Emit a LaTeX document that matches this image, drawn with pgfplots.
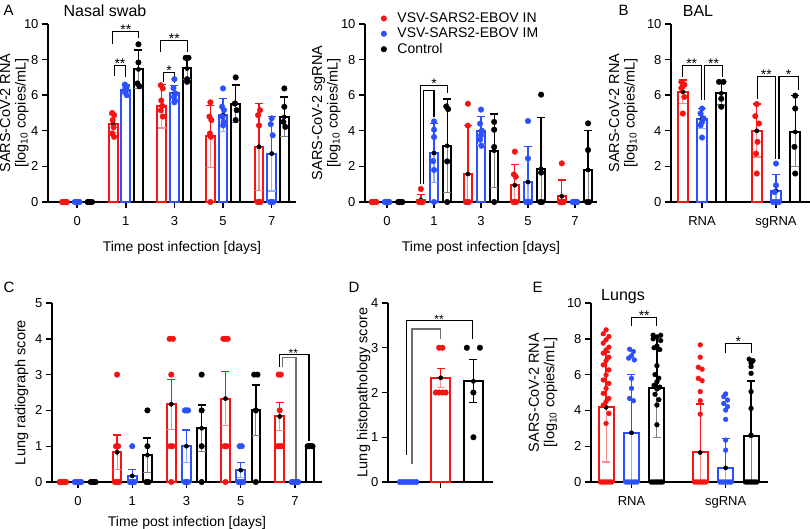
\documentclass[border=0pt]{standalone}
\usepackage{pgfplots}
\pgfplotsset{compat=1.18}
\usepackage{fontspec}
\setmainfont{Liberation Sans}
\definecolor{cR}{RGB}{245,20,20}
\definecolor{cB}{RGB}{45,80,255}
\definecolor{cK}{RGB}{0,0,0}
\definecolor{cRl}{RGB}{250,140,140}
\definecolor{cBl}{RGB}{150,170,255}
\definecolor{cKl}{RGB}{130,130,130}
\definecolor{cG}{RGB}{110,110,110}
\pgfplotsset{
  panel/.style={scale only axis, axis lines=left, axis line style={-, line width=1.4pt},
    ymin=0, clip=false, tick align=outside, major tick length=6pt,
    tick style={black, line width=1.4pt},
    tick label style={font=\fontsize{13}{15}\selectfont},
    xticklabel style={yshift=-5pt},
    xlabel style={font=\fontsize{14}{16}\selectfont},
    ylabel style={font=\fontsize{14.5}{15.5}\selectfont, align=center},
    /pgf/number format/assume math mode=true,
    anchor=south west},
  bars/.style={ybar, bar shift=0pt, fill=white, draw=#1, line width=2pt, forget plot},
  errp/.style={only marks, mark=none, forget plot, error bars/y dir=plus, error bars/y explicit,
     error bars/error bar style={draw=#1, line width=1.3pt},
     error bars/error mark options={rotate=90, draw=#1, line width=1.3pt, mark size=4pt}},
  errm/.style={only marks, mark=none, forget plot, error bars/y dir=minus, error bars/y explicit,
     error bars/error bar style={draw=#1, line width=1.1pt},
     error bars/error mark options={rotate=90, draw=#1, line width=1.1pt, mark size=4pt}},
  dots/.style={only marks, mark=*, mark size=2.8pt, color=#1, forget plot},
}
\tikzset{brk/.style={line width=1.1pt}, star/.style={font=\fontsize{14}{16}\selectfont, anchor=base, inner sep=0pt, yshift=-3pt}}
\begin{document}
\begin{tikzpicture}
\path[use as bounding box] (0pt,0pt) rectangle (810pt,-529pt);
% panel letters and titles
\node[anchor=base west, font=\fontsize{15}{16}\selectfont] at (0pt,-16pt) {A};
\node[anchor=base west, font=\fontsize{15}{16}\selectfont] at (615pt,-16pt) {B};
\node[anchor=base west, font=\fontsize{15}{16}\selectfont] at (0pt,-292pt) {C};
\node[anchor=base west, font=\fontsize{15}{16}\selectfont] at (345pt,-292pt) {D};
\node[anchor=base west, font=\fontsize{15}{16}\selectfont] at (529pt,-292pt) {E};
\node[anchor=base, font=\fontsize{16}{18}\selectfont] at (105pt,-17pt) {Nasal swab};
\node[anchor=base, font=\fontsize{16}{18}\selectfont] at (698pt,-17pt) {BAL};
\node[anchor=base, font=\fontsize{16}{18}\selectfont] at (623pt,-300pt) {Lungs};

% ---------------- Panel A left: nasal swab RNA
\begin{axis}[panel, at={(48pt,-202pt)}, width=248pt, height=178pt,
  xmin=-0.6, xmax=4.5, ymax=10, ytick={0,2,4,6,8,10}, xtick={0,1,2,3,4}, xticklabels={0,1,3,5,7},
  bar width=0.18, xlabel={Time post infection [days]},
  xlabel style={at={(axis description cs:0.54,-0.2)}, anchor=north},
  ylabel={SARS-CoV-2 RNA\\{[}log\textsubscript{10} copies/mL{]}},
  ylabel style={at={(axis description cs:-0.064,0.5)}, anchor=south}]
\addplot[bars=cR] coordinates {(-0.26,0) (0.74,4.41) (1.74,5.38) (2.74,3.7) (3.74,3.1)};
\addplot[bars=cB] coordinates {(0,0) (1,6.32) (2,6.1) (3,4.88) (4,2.72)};
\addplot[bars=cK] coordinates {(0.26,0) (1.26,7.45) (2.26,7.5) (3.26,5.53) (4.26,4.78)};
\addplot[errm=cRl] coordinates {(0.74,4.41) +- (0,0.5) (1.74,5.38) +- (0,1.22) (2.74,3.7) +- (0,1.74) (3.74,3.1) +- (0,2.43)};
\addplot[errp=cR] coordinates {(0.74,4.41) +- (0,0.5) (1.74,5.38) +- (0,1.22) (2.74,3.7) +- (0,1.74) (3.74,3.1) +- (0,2.43)};
\addplot[errm=cBl] coordinates {(1,6.32) +- (0,0.25) (2,6.1) +- (0,0.46) (3,4.88) +- (0,0.92) (4,2.72) +- (0,2.1)};
\addplot[errp=cB] coordinates {(1,6.32) +- (0,0.25) (2,6.1) +- (0,0.46) (3,4.88) +- (0,0.92) (4,2.72) +- (0,2.1)};
\addplot[errm=cKl] coordinates {(1.26,7.45) +- (0,1.09) (2.26,7.5) +- (0,0.6) (3.26,5.53) +- (0,1.04) (4.26,4.78) +- (0,1.12)};
\addplot[errp=cK] coordinates {(1.26,7.45) +- (0,1.09) (2.26,7.5) +- (0,0.6) (3.26,5.53) +- (0,1.04) (4.26,4.78) +- (0,1.12)};
\addplot[dots=cR] coordinates {(-0.31,0) (-0.29,0) (-0.27,0) (-0.25,0) (-0.23,0) (-0.21,0)
  (0.72,5.0) (0.76,4.88) (0.73,4.6) (0.75,4.2) (0.72,3.85) (0.76,3.66)
  (1.72,6.56) (1.76,6.38) (1.73,5.7) (1.75,5.4) (1.72,5.15) (1.76,4.8)
  (2.74,5.6) (2.72,4.8) (2.76,4.6) (2.73,3.85) (2.75,3.66) (2.74,0)
  (3.76,5.16) (3.72,4.88) (3.74,4.3) (3.71,0) (3.74,0) (3.77,0)};
\addplot[dots=cB] coordinates {(-0.05,0) (-0.03,0) (-0.01,0) (0.01,0) (0.03,0) (0.05,0)
  (0.98,6.6) (1.02,6.5) (0.99,6.4) (1.01,6.3) (0.98,6.2) (1.02,6.0)
  (2.0,6.9) (1.98,6.4) (2.02,6.1) (1.99,5.9) (2.01,5.7) (2.0,5.6)
  (3.0,6.38) (2.98,5.35) (3.02,5.16) (2.99,4.78) (3.01,4.5) (3.0,4.3)
  (4.0,4.7) (3.98,4.37) (4.02,3.75) (3.97,0) (4.0,0) (4.03,0)};
\addplot[dots=cK] coordinates {(0.215,0) (0.245,0) (0.275,0) (0.305,0)
  (1.26,8.86) (1.26,7.84) (1.24,6.66) (1.28,6.5)
  (2.23,8.1) (2.29,8.1) (2.26,6.9) (2.26,6.75)
  (3.26,7.0) (3.24,5.53) (3.28,5.16) (3.26,4.6)
  (4.26,6.38) (4.26,5.35) (4.24,4.5) (4.28,4.22)};
\draw[brk] (axis cs:0.72,8.9) |- (axis cs:1.26,9.57) -- (axis cs:1.26,9.2);
\node[star] at (axis cs:1.0,9.57) {**};
\draw[brk] (axis cs:0.76,7.1) |- (axis cs:1.0,7.65) -- (axis cs:1.0,7.0);
\node[star] at (axis cs:0.88,7.65) {**};
\draw[brk] (axis cs:1.72,8.45) |- (axis cs:2.27,9.06) -- (axis cs:2.27,8.45);
\node[star] at (axis cs:2.0,9.06) {**};
\draw[brk] (axis cs:1.78,6.75) |- (axis cs:2.0,7.26) -- (axis cs:2.0,6.66);
\node[star] at (axis cs:1.89,7.26) {*};
\end{axis}

% ---------------- Panel A right: nasal swab sgRNA
\begin{axis}[panel, at={(365pt,-202pt)}, width=232pt, height=178pt,
  xmin=-0.47, xmax=4.47, ymax=10, ytick={0,2,4,6,8,10}, xtick={0,1,2,3,4}, xticklabels={0,1,3,5,7},
  bar width=0.17, xlabel={Time post infection [days]},
  xlabel style={at={(axis description cs:0.5,-0.2)}, anchor=north},
  ylabel={SARS-CoV-2 sgRNA\\{[}log\textsubscript{10} copies/mL{]}},
  ylabel style={at={(axis description cs:-0.09,0.5)}, anchor=south},
  legend style={at={(0.055,1.075)}, anchor=north west, draw=none, fill=none,
    font=\fontsize{14}{16}\selectfont, row sep=0pt, inner sep=0pt, cells={anchor=west}},
  legend image code/.code={\draw[#1] plot coordinates {(0.2cm,0cm)}; \path (0cm,0cm) (0.6cm,0cm);}]
\addlegendimage{only marks, mark=*, mark size=2.8pt, color=cR}
\addlegendentry{VSV-SARS2-EBOV IN}
\addlegendimage{only marks, mark=*, mark size=2.8pt, color=cB}
\addlegendentry{VSV-SARS2-EBOV IM}
\addlegendimage{only marks, mark=*, mark size=2.8pt, color=cK}
\addlegendentry{Control}
\addplot[bars=cR] coordinates {(-0.28,0) (0.72,0.12) (1.72,1.57) (2.72,0.94) (3.72,0.32)};
\addplot[bars=cB] coordinates {(0,0) (1,2.75) (2,4.0) (3,1.12) (4,0)};
\addplot[bars=cK] coordinates {(0.28,0) (1.28,3.16) (2.28,2.88) (3.28,1.87) (4.28,1.8)};
\addplot[errm=cRl] coordinates {(1.72,1.57) +- (0,1.57) (2.72,0.94) +- (0,0.94) (3.72,0.32) +- (0,0.32)};
\addplot[errp=cR] coordinates {(0.72,0.12) +- (0,0.29) (1.72,1.57) +- (0,2.72) (2.72,0.94) +- (0,1.18) (3.72,0.32) +- (0,0.92)};
\addplot[errm=cBl] coordinates {(1,2.75) +- (0,1.65) (2,4.0) +- (0,0.8) (3,1.12) +- (0,1.12)};
\addplot[errp=cB] coordinates {(1,2.75) +- (0,1.65) (2,4.0) +- (0,0.8) (3,1.12) +- (0,1.98)};
\addplot[errm=cKl] coordinates {(1.28,3.16) +- (0,2.63) (2.28,2.88) +- (0,2.06) (3.28,1.87) +- (0,1.87) (4.28,1.8) +- (0,1.8)};
\addplot[errp=cK] coordinates {(1.28,3.16) +- (0,2.63) (2.28,2.88) +- (0,2.06) (3.28,1.87) +- (0,2.89) (4.28,1.8) +- (0,2.2)};
\addplot[dots=cR] coordinates {(-0.33,0) (-0.31,0) (-0.29,0) (-0.27,0) (-0.25,0) (-0.23,0)
  (0.72,0.73) (0.68,0) (0.70,0) (0.72,0) (0.74,0) (0.76,0)
  (1.72,5.52) (1.72,4.29) (1.68,0) (1.70,0) (1.72,0) (1.74,0)
  (2.72,2.83) (2.70,1.55) (2.74,1.42) (2.69,0) (2.72,0) (2.75,0)
  (3.72,2.17) (3.68,0) (3.70,0) (3.72,0) (3.74,0) (3.76,0)};
\addplot[dots=cB] coordinates {(-0.05,0) (-0.03,0) (-0.01,0) (0.01,0) (0.03,0) (0.05,0)
  (1.0,4.53) (1.0,4.06) (1.0,3.65) (0.98,2.3) (1.0,1.8) (1.0,0)
  (2.0,5.19) (1.98,4.4) (2.02,4.0) (2.0,3.75) (1.98,3.5) (2.01,3.16)
  (3.0,4.55) (3.0,2.45) (2.96,0) (2.99,0) (3.02,0) (3.05,0)
  (3.95,0) (3.97,0) (3.99,0) (4.01,0) (4.03,0) (4.05,0)};
\addplot[dots=cK] coordinates {(0.235,0) (0.265,0) (0.295,0) (0.325,0)
  (1.26,5.37) (1.30,5.22) (1.28,2.28) (1.28,0)
  (2.28,4.5) (2.28,4.06) (2.28,3.09) (2.28,0)
  (3.28,6.03) (3.28,1.65) (3.26,0) (3.30,0)
  (4.28,4.42) (4.28,2.92) (4.26,0) (4.30,0)};
\draw[brk] (axis cs:0.72,1.0) |- (axis cs:1.28,6.54) -- (axis cs:1.28,6.12);
\draw[brk] (axis cs:0.78,1.0) |- (axis cs:1.0,6.25) -- (axis cs:1.0,4.75);
\node[star] at (axis cs:1.0,6.54) {*};
\end{axis}

% ---------------- Panel B: BAL
\begin{axis}[panel, at={(671pt,-202pt)}, width=139pt, height=178pt,
  xmin=-0.42, xmax=1.46, ymax=10, ytick={0,2,4,6,8,10}, xtick={0,1}, xticklabels={RNA,sgRNA},
  bar width=0.135,
  ylabel={SARS-CoV-2 RNA\\{[}log\textsubscript{10} copies/mL{]}},
  ylabel style={at={(axis description cs:-0.215,0.5)}, anchor=south}]
\addplot[bars=cR] coordinates {(-0.26,6.19) (0.74,4.0)};
\addplot[bars=cB] coordinates {(0,4.69) (1,0.62)};
\addplot[bars=cK] coordinates {(0.26,6.1) (1.26,3.94)};
\addplot[errm=cRl] coordinates {(-0.26,6.19) +- (0,0.66) (0.74,4.0) +- (0,1.47)};
\addplot[errp=cR] coordinates {(-0.26,6.19) +- (0,0.66) (0.74,4.0) +- (0,1.5)};
\addplot[errm=cBl] coordinates {(0,4.69) +- (0,0.56) (1,0.62) +- (0,0.62)};
\addplot[errp=cB] coordinates {(0,4.69) +- (0,0.56) (1,0.62) +- (0,0.94)};
\addplot[errm=cKl] coordinates {(0.26,6.1) +- (0,0.65) (1.26,3.94) +- (0,1.97)};
\addplot[errp=cK] coordinates {(0.26,6.1) +- (0,0.65) (1.26,3.94) +- (0,2.06)};
\addplot[dots=cR] coordinates {(-0.28,6.75) (-0.24,6.6) (-0.26,6.5) (-0.28,6.4) (-0.24,5.9) (-0.26,4.97)
  (0.74,5.5) (0.72,4.82) (0.77,4.41) (0.75,3.38) (0.73,2.72) (0.74,1.6)};
\addplot[dots=cB] coordinates {(0,5.25) (-0.02,4.97) (0.02,4.7) (0,4.5) (-0.02,4.32) (0,3.62)
  (1.0,2.16) (1.0,0.94) (0.98,0.56) (0.96,0) (1.0,0) (1.04,0)};
\addplot[dots=cK] coordinates {(0.23,6.75) (0.29,6.75) (0.26,5.8) (0.26,5.35)
  (1.26,5.97) (1.26,5.25) (1.25,3.1) (1.26,1.6)};
\draw[brk] (axis cs:-0.27,7.04) |- (axis cs:-0.01,7.65) -- (axis cs:-0.01,5.72);
\draw[brk] (axis cs:0.03,5.72) |- (axis cs:0.28,7.65) -- (axis cs:0.28,7.04);
\node[star] at (axis cs:-0.14,7.65) {**};
\node[star] at (axis cs:0.155,7.65) {**};
\draw[brk] (axis cs:0.75,5.8) |- (axis cs:0.99,7.04) -- (axis cs:0.99,2.4);
\draw[brk] (axis cs:1.04,2.4) |- (axis cs:1.3,7.04) -- (axis cs:1.3,6.3);
\node[star] at (axis cs:0.87,7.04) {**};
\node[star] at (axis cs:1.17,7.04) {*};
\end{axis}

% ---------------- Panel C: radiograph
\begin{axis}[panel, at={(52pt,-482pt)}, width=270pt, height=179pt,
  xmin=-0.48, xmax=4.5, ymax=5, ytick={0,1,2,3,4,5}, xtick={0,1,2,3,4}, xticklabels={0,1,3,5,7},
  bar width=0.16, xlabel={Time post infection [days]},
  xlabel style={at={(axis description cs:0.5,-0.172)}, anchor=north},
  ylabel={Lung radiograph score},
  ylabel style={at={(axis description cs:-0.074,0.5)}, anchor=south}]
\addplot[bars=cR] coordinates {(-0.28,0) (0.72,0.83) (1.72,2.17) (2.72,2.33) (3.72,1.83)};
\addplot[bars=cB] coordinates {(0,0) (1,0.17) (2,1.0) (3,0.33) (4,0)};
\addplot[bars=cK] coordinates {(0.28,0) (1.28,0.75) (2.28,1.5) (3.28,2.0) (4.28,1.0)};
\addplot[errm=cRl] coordinates {(0.72,0.83) +- (0,0.48) (1.72,2.17) +- (0,0.7) (2.72,2.33) +- (0,0.76) (3.72,1.83) +- (0,0.4)};
\addplot[errp=cR] coordinates {(0.72,0.83) +- (0,0.48) (1.72,2.17) +- (0,0.7) (2.72,2.33) +- (0,0.76) (3.72,1.83) +- (0,0.4)};
\addplot[errm=cBl] coordinates {(1,0.17) +- (0,0.17) (2,1.0) +- (0,0.45) (3,0.33) +- (0,0.21)};
\addplot[errp=cB] coordinates {(1,0.17) +- (0,0.17) (2,1.0) +- (0,0.45) (3,0.33) +- (0,0.21)};
\addplot[errm=cKl] coordinates {(1.28,0.75) +- (0,0.48) (2.28,1.5) +- (0,0.65) (3.28,2.0) +- (0,0.71)};
\addplot[errp=cK] coordinates {(1.28,0.75) +- (0,0.48) (2.28,1.5) +- (0,0.65) (3.28,2.0) +- (0,0.71)};
\addplot[dots=cR] coordinates {(-0.34,0) (-0.316,0) (-0.292,0) (-0.268,0) (-0.244,0) (-0.22,0)
  (0.72,3) (0.70,1) (0.74,1) (0.68,0) (0.72,0) (0.76,0)
  (1.69,4) (1.75,4) (1.72,3) (1.70,1) (1.74,1) (1.72,0)
  (2.68,4) (2.72,4) (2.76,4) (2.70,1) (2.74,1) (2.72,0)
  (3.70,3) (3.74,3) (3.72,2) (3.68,1) (3.72,1) (3.76,1)};
\addplot[dots=cB] coordinates {(-0.06,0) (-0.036,0) (-0.012,0) (0.012,0) (0.036,0) (0.06,0)
  (1.0,1) (0.96,0) (0.98,0) (1.0,0) (1.02,0) (1.04,0)
  (1.97,2) (2.0,2) (2.03,2) (1.97,0) (2.0,0) (2.03,0)
  (2.98,1) (3.02,1) (2.96,0) (2.99,0) (3.02,0) (3.05,0)
  (3.94,0) (3.964,0) (3.988,0) (4.012,0) (4.036,0) (4.06,0)};
\addplot[dots=cK] coordinates {(0.235,0) (0.265,0) (0.295,0) (0.325,0)
  (1.28,2) (1.28,1) (1.26,0) (1.30,0)
  (2.28,3) (2.28,2) (2.28,1) (2.28,0)
  (3.25,3) (3.31,3) (3.28,2) (3.28,0)
  (4.235,1) (4.265,1) (4.295,1) (4.325,1)};
\draw[brk] (axis cs:3.72,3.22) |- (axis cs:4.26,3.55) -- (axis cs:4.26,1.15);
\draw[brk, cG] (axis cs:3.77,3.22) |- (axis cs:4.02,3.48) -- (axis cs:4.02,0.09);
\node[star, font=\fontsize{12}{14}\selectfont] at (axis cs:3.97,3.55) {**};
\end{axis}

% ---------------- Panel D: histopathology
\begin{axis}[panel, at={(388pt,-482pt)}, width=105pt, height=179pt,
  xmin=-0.615, xmax=2.6, ymax=4, ytick={0,1,2,3,4}, xtick={1}, xticklabels={},
  bar width=0.58, ylabel={Lung histopathology score},
  ylabel style={at={(axis description cs:-0.135,0.5)}, anchor=south}]
\addplot[bars=cR] coordinates {(1,2.33)};
\addplot[bars=cK] coordinates {(2,2.25)};
\addplot[errm=cRl] coordinates {(1,2.33) +- (0,0.21)};
\addplot[errp=cR] coordinates {(1,2.33) +- (0,0.21)};
\addplot[errm=cK] coordinates {(2,2.25) +- (0,0.48)};
\addplot[errp=cK] coordinates {(2,2.25) +- (0,0.48)};
\addplot[dots=cB] coordinates {(-0.25,0) (-0.15,0) (-0.05,0) (0.05,0) (0.15,0) (0.25,0)};
\addplot[dots=cR] coordinates {(0.95,3) (1.05,3) (0.85,2) (0.95,2) (1.05,2) (1.15,2)};
\addplot[dots=cK] coordinates {(1.8,3) (2.2,3) (2.0,2) (2.0,1)};
\draw[brk] (axis cs:-0.06,0.6) |- (axis cs:1.98,3.61) -- (axis cs:1.98,3.2);
\draw[brk, cG] (axis cs:0.12,0.41) |- (axis cs:0.985,3.42) -- (axis cs:0.985,3.2);
\node[star, font=\fontsize{12}{14}\selectfont] at (axis cs:0.95,3.61) {**};
\end{axis}

% ---------------- Panel E: lungs
\begin{axis}[panel, at={(591pt,-482pt)}, width=177pt, height=179pt,
  xmin=-0.43, xmax=1.45, ymax=10, ytick={0,2,4,6,8,10}, xtick={0,1}, xticklabels={RNA,sgRNA},
  bar width=0.16,
  ylabel={SARS-CoV-2 RNA\\{[}log\textsubscript{10} copies/mL{]}},
  ylabel style={at={(axis description cs:-0.17,0.5)}, anchor=south}]
\addplot[bars=cR] coordinates {(-0.27,4.17) (0.73,1.65)};
\addplot[bars=cB] coordinates {(0,2.75) (1,0.79)};
\addplot[bars=cK] coordinates {(0.27,5.23) (1.27,2.58)};
\addplot[errm=cRl] coordinates {(-0.27,4.17) +- (0,3.05) (0.73,1.65) +- (0,1.65)};
\addplot[errp=cR] coordinates {(-0.27,4.17) +- (0,3.1) (0.73,1.65) +- (0,2.7)};
\addplot[errm=cBl] coordinates {(0,2.75) +- (0,2.75) (1,0.79) +- (0,0.79)};
\addplot[errp=cB] coordinates {(0,2.75) +- (0,3.27) (1,0.79) +- (0,1.64)};
\addplot[errm=cKl] coordinates {(0.27,5.23) +- (0,2.74) (1.27,2.58) +- (0,2.58)};
\addplot[errp=cK] coordinates {(0.27,5.23) +- (0,2.97) (1.27,2.58) +- (0,3.06)};
\addplot[dots=cR, mark size=2.4pt] coordinates {(-0.27,8.5) (-0.30,8.28) (-0.24,8.13) (-0.27,7.94) (-0.30,7.76) (-0.24,7.53)
  (-0.27,7.38) (-0.30,7.2) (-0.24,6.97) (-0.27,6.78) (-0.30,6.54) (-0.24,6.26) (-0.27,5.98) (-0.30,5.7)
  (-0.24,5.51) (-0.27,5.23) (-0.30,4.95) (-0.24,4.67) (-0.27,4.49) (-0.30,4.3) (-0.24,3.83) (-0.27,3.27)
  (-0.33,0) (-0.31,0) (-0.29,0) (-0.27,0) (-0.25,0) (-0.23,0) (-0.21,0)
  (0.73,7.66) (0.73,6.97) (0.71,6.41) (0.75,6.3) (0.71,5.79) (0.75,5.66) (0.73,5.05) (0.73,4.54) (0.73,3.79)
  (0.67,0) (0.69,0) (0.71,0) (0.73,0) (0.75,0) (0.77,0) (0.79,0)};
\addplot[dots=cB, mark size=2.4pt] coordinates {(-0.02,7.42) (0.02,7.29) (0,7.05) (-0.03,6.92) (0.03,6.82) (0,5.79) (0,5.23) (-0.02,4.67) (0.02,4.54)
  (-0.06,0) (-0.04,0) (-0.02,0) (0,0) (0.02,0) (0.04,0) (0.06,0)
  (1.0,4.92) (0.98,4.77) (1.02,4.58) (0.98,4.39) (1.02,4.21) (1.0,4.02) (1.0,3.5) (1.0,2.34) (1.0,1.78)
  (0.94,0) (0.96,0) (0.98,0) (1.0,0) (1.02,0) (1.04,0) (1.06,0)};
\addplot[dots=cK, mark size=2.4pt] coordinates {(0.23,8.2) (0.31,8.2) (0.27,8.1) (0.23,8.0) (0.31,7.9) (0.27,7.6) (0.24,7.5) (0.30,7.4)
  (0.27,6.5) (0.25,6.0) (0.29,5.8) (0.27,5.6) (0.24,5.4) (0.30,5.3) (0.27,5.2) (0.25,4.9) (0.29,4.6) (0.27,4.3) (0.27,3.2)
  (0.21,0) (0.23,0) (0.25,0) (0.27,0) (0.29,0) (0.31,0) (0.33,0)
  (1.25,6.86) (1.29,6.78) (1.27,6.64) (1.27,6.45) (1.27,6.07) (1.27,5.05) (1.27,4.11) (1.27,2.62)
  (1.21,0) (1.23,0) (1.25,0) (1.27,0) (1.29,0) (1.31,0) (1.33,0)};
\draw[brk] (axis cs:0,8.7) |- (axis cs:0.27,9.2) -- (axis cs:0.27,8.7);
\node[star] at (axis cs:0.135,9.2) {**};
\draw[brk] (axis cs:1,7.23) |- (axis cs:1.27,7.76) -- (axis cs:1.27,7.23);
\node[star] at (axis cs:1.135,7.76) {*};
\end{axis}
\end{tikzpicture}
\end{document}
